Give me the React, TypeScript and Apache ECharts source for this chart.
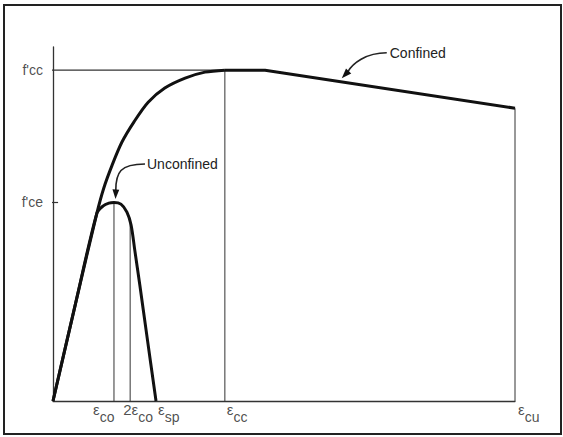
import React, { useEffect, useRef } from "react";
import * as echarts from "echarts";

// Normalised strain (εcu = 1) and stress (f'cc = 1)
const confinedRiseX = [0, 0.048, 0.095, 0.11, 0.128, 0.149, 0.175, 0.206, 0.242, 0.286, 0.329, 0.372];
const confinedRiseY = [0, 0.29, 0.568, 0.644, 0.713, 0.782, 0.843, 0.903, 0.946, 0.976, 0.994, 1.0];
const confinedTailX = [0.372, 0.459, 1.0];
const confinedTailY = [1.0, 1.0, 0.885];
const unconfinedX = [0, 0.048, 0.095, 0.108, 0.121, 0.132, 0.147, 0.16, 0.169, 0.177, 0.188, 0.203, 0.223];
const unconfinedY = [0, 0.29, 0.568, 0.589, 0.598, 0.6, 0.595, 0.571, 0.532, 0.456, 0.35, 0.199, 0];

const strainLabels = ["εco", "2εco", "εsp", "εcc", "εcu"];
const strainValues = [0.132, 0.167, 0.223, 0.372, 1.0];
const guideTops = [0.6, 0.54, 0, 1.0, 0.885];

const stressLabels = ["f'ce", "f'cc"];
const stressValues = [0.6, 1.0];

const annotationLabels = ["Confined", "Unconfined"];
const annotationAnchors: [number, number][] = [
  [0.625, 0.965],
  [0.132, 0.6],
];

// styling
const FONT = '"Liberation Sans", Arial, sans-serif';
const INK = "#111";
const TEXT = "#222";
const labelOffsets: Record<string, [number, number]> = {
  "εco": [-21, 1],
  "2εco": [-7, 1],
  "εsp": [2, 1],
  "εcc": [2, 1],
  "εcu": [3, 1],
};
const TICK = 0.011;

function zip(xs: number[], ys: number[]) {
  return xs.map((x, i) => [x, ys[i]]);
}

function richStrain(name: string) {
  const idx = name.lastIndexOf("ε");
  const head = name.slice(0, idx + 1);
  const sub = name.slice(idx + 1);
  return `{e|${head}}{s|${sub}}`;
}

function buildOption(): any {
  const guides = strainValues
    .map((v, i) => ({ v, top: guideTops[i] }))
    .filter((g) => g.top > 0)
    .map((g) => ({
      type: "line",
      data: [
        [g.v, 0],
        [g.v, g.top],
      ],
      symbol: "none",
      silent: true,
      lineStyle: { color: "#333", width: 1 },
      z: 2,
    }));
  return {
    animation: false,
    backgroundColor: "#fff",
    grid: { left: 53, right: 48, top: 47, bottom: 36 },
    xAxis: {
      type: "value",
      min: 0,
      max: 1,
      axisLine: { show: true, lineStyle: { color: "#333", width: 1.3 } },
      axisTick: { show: false },
      axisLabel: { show: false },
      splitLine: { show: false },
    },
    yAxis: {
      type: "value",
      min: 0,
      max: 1.07,
      axisLine: { show: true, lineStyle: { color: "#333", width: 1.3 } },
      axisTick: { show: false },
      axisLabel: { show: false },
      splitLine: { show: false },
    },
    series: [
      ...guides,
      {
        type: "line",
        data: [
          [-TICK, stressValues[1]],
          [strainValues[3], stressValues[1]],
        ],
        symbol: "none",
        clip: false,
        silent: true,
        lineStyle: { color: "#333", width: 1.2 },
        z: 2,
      },
      {
        type: "line",
        data: [
          [-TICK, stressValues[0]],
          [TICK, stressValues[0]],
        ],
        symbol: "none",
        clip: false,
        silent: true,
        lineStyle: { color: "#333", width: 1.2 },
        z: 2,
      },
      {
        type: "line",
        name: "Unconfined",
        data: zip(unconfinedX, unconfinedY),
        smooth: 0.3,
        symbol: "none",
        silent: true,
        lineStyle: { color: INK, width: 3 },
        z: 3,
      },
      {
        type: "line",
        name: "Confined",
        data: zip(confinedRiseX, confinedRiseY),
        smooth: 0.3,
        symbol: "none",
        silent: true,
        lineStyle: { color: INK, width: 3 },
        z: 3,
      },
      {
        type: "line",
        name: "Confined tail",
        data: zip(confinedTailX, confinedTailY),
        symbol: "none",
        silent: true,
        lineStyle: { color: INK, width: 3, join: "round" },
        z: 3,
      },
      {
        type: "scatter",
        silent: true,
        symbolSize: 0,
        itemStyle: { color: "transparent" },
        data: strainValues.map((v, i) => ({
          value: [v, 0],
          name: strainLabels[i],
          label: { position: labelOffsets[strainLabels[i]] },
        })),
        label: {
          show: true,
          formatter: (p: any) => richStrain(p.name),
          rich: {
            e: { fontSize: 15, lineHeight: 14, verticalAlign: "top", color: TEXT, fontFamily: FONT },
            s: { fontSize: 14, lineHeight: 22, verticalAlign: "bottom", color: TEXT, fontFamily: FONT },
          },
        },
        z: 5,
      },
      {
        type: "scatter",
        silent: true,
        symbolSize: 0,
        itemStyle: { color: "transparent" },
        data: stressValues.map((v, i) => ({ value: [0, v], name: stressLabels[i] })),
        label: {
          show: true,
          position: "left",
          distance: 10,
          formatter: (p: any) => p.name,
          fontSize: 14,
          color: TEXT,
          fontFamily: FONT,
        },
        z: 5,
      },
    ],
  };
}

function arrowHead(tip: number[], dir: number[], len: number, half: number) {
  const n = Math.hypot(dir[0], dir[1]);
  const dx = dir[0] / n;
  const dy = dir[1] / n;
  const bx = tip[0] - dx * len;
  const by = tip[1] - dy * len;
  return [
    [tip[0], tip[1]],
    [bx - dy * half, by + dx * half],
    [bx + dy * half, by - dx * half],
  ];
}

function buildGraphics(chart: echarts.ECharts) {
  const els: any[] = [
    {
      type: "rect",
      shape: { x: 4, y: 5, width: 557, height: 429 },
      style: { fill: "none", stroke: "#222", lineWidth: 2 },
      silent: true,
      z: 10,
    },
  ];
  // Confined leader
  const c = chart.convertToPixel({ gridIndex: 0 }, annotationAnchors[0]) as number[];
  const cTip = [c[0], c[1] - 3.5];
  const cDir = [-0.69, 0.73];
  const cBase = [cTip[0] - cDir[0] * 9, cTip[1] - cDir[1] * 9];
  els.push({
    type: "bezierCurve",
    shape: {
      x1: c[0] + 45,
      y1: c[1] - 29,
      cpx1: c[0] + 24,
      cpy1: c[1] - 29,
      cpx2: c[0] + 10.5,
      cpy2: c[1] - 18,
      x2: cBase[0],
      y2: cBase[1],
    },
    style: { stroke: "#222", lineWidth: 1.6, fill: null },
    silent: true,
    z: 10,
  });
  els.push({
    type: "polygon",
    shape: { points: arrowHead(cTip, cDir, 10, 3.6) },
    style: { fill: "#111", stroke: "none" },
    silent: true,
    z: 10,
  });
  els.push({
    type: "text",
    x: c[0] + 48,
    y: c[1] - 29,
    style: {
      text: annotationLabels[0],
      fontSize: 14,
      fontFamily: FONT,
      fill: TEXT,
      align: "left",
      verticalAlign: "middle",
    },
    silent: true,
    z: 10,
  });
  // Unconfined leader
  const u = chart.convertToPixel({ gridIndex: 0 }, annotationAnchors[1]) as number[];
  const uTip = [u[0] + 1.5, u[1] - 3.5];
  const uDir = [-0.04, 1];
  const uBase = [uTip[0] + 0.3, uTip[1] - 8.5];
  els.push({
    type: "bezierCurve",
    shape: {
      x1: u[0] + 31,
      y1: u[1] - 38.5,
      cpx1: u[0] + 6,
      cpy1: u[1] - 38.5,
      cpx2: uBase[0],
      cpy2: u[1] - 30,
      x2: uBase[0],
      y2: uBase[1],
    },
    style: { stroke: "#222", lineWidth: 1.6, fill: null },
    silent: true,
    z: 10,
  });
  els.push({
    type: "polygon",
    shape: { points: arrowHead(uTip, uDir, 9.5, 3.4) },
    style: { fill: "#111", stroke: "none" },
    silent: true,
    z: 10,
  });
  els.push({
    type: "text",
    x: u[0] + 33,
    y: u[1] - 38.5,
    style: {
      text: annotationLabels[1],
      fontSize: 14,
      fontFamily: FONT,
      fill: TEXT,
      align: "left",
      verticalAlign: "middle",
    },
    silent: true,
    z: 10,
  });
  return els;
}

export default function App() {
  const ref = useRef<HTMLDivElement>(null);
  useEffect(() => {
    if (!ref.current) return;
    const chart = echarts.init(ref.current, null, { renderer: "svg" });
    chart.setOption(buildOption());
    chart.setOption({ graphic: buildGraphics(chart) });
    return () => chart.dispose();
  }, []);
  return (
    <div
      ref={ref}
      style={{ position: "fixed", left: 0, top: 0, width: 563, height: 437, background: "#fff" }}
    />
  );
}
